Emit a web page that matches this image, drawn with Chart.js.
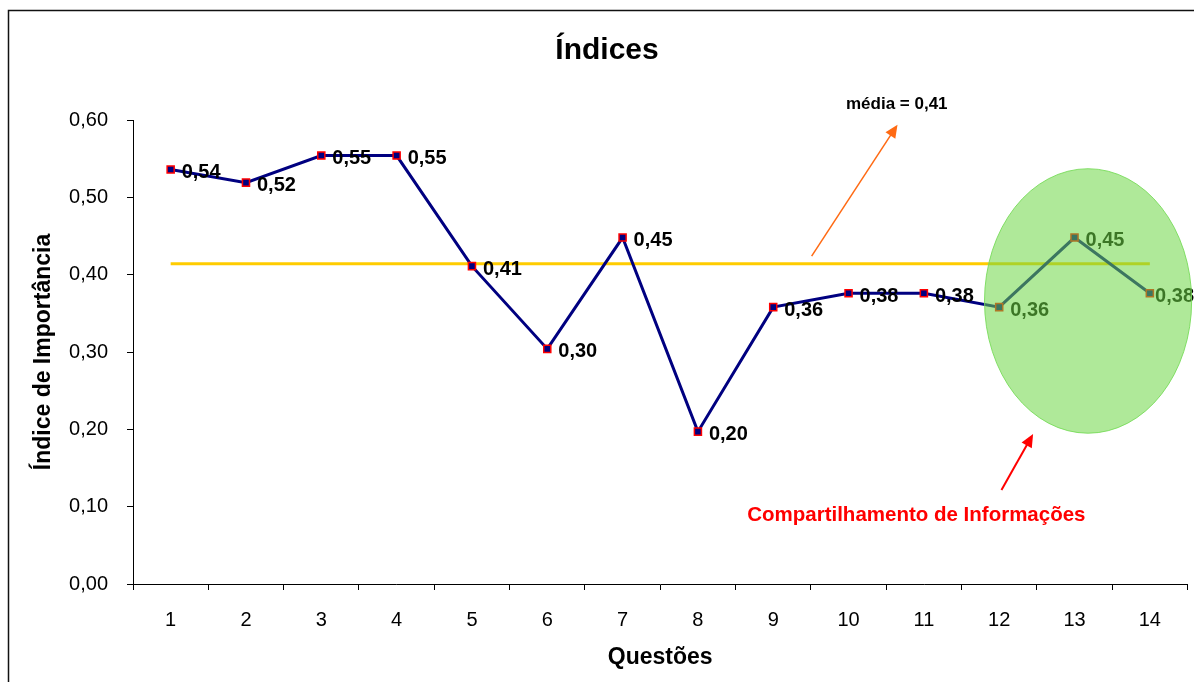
<!DOCTYPE html>
<html>
<head>
<meta charset="utf-8">
<title>Índices</title>
<script src="https://cdn.jsdelivr.net/npm/chart.js@4.4.1/dist/chart.umd.min.js"></script>
<style>
  html, body { margin: 0; padding: 0; background: #fff; }
</style>
</head>
<body>
<canvas id="myChart" width="1194" height="682"></canvas>
<script>
const questoes = ['1', '2', '3', '4', '5', '6', '7', '8', '9', '10', '11', '12', '13', '14'];
const indices = [0.536, 0.519, 0.554, 0.554, 0.411, 0.304, 0.448, 0.197, 0.358, 0.376, 0.376, 0.358, 0.448, 0.376];
const mediaValor = 0.414;
const media = [0.414, 0.414, 0.414, 0.414, 0.414, 0.414, 0.414, 0.414, 0.414, 0.414, 0.414, 0.414, 0.414, 0.414];
const yTicks = [0, 0.1, 0.2, 0.3, 0.4, 0.5, 0.6];

// 0.54 -> "0,54"
const fmt = v => v.toFixed(2).replace('.', ',');

Chart.defaults.font.family = "'Liberation Sans', Arial, sans-serif";
Chart.defaults.color = '#000';

// white page, outer frame (left and top edges visible) and the title
const frame = {
    id: 'frame',
    beforeDraw(chart) {
        const c = chart.ctx;
        c.save();
        c.fillStyle = '#fff';
        c.fillRect(0, 0, chart.width, chart.height);
        c.strokeStyle = '#111';
        c.lineWidth = 1.5;
        c.beginPath();
        c.moveTo(8.5, chart.height);
        c.lineTo(8.5, 10.5);
        c.lineTo(chart.width, 10.5);
        c.stroke();
        c.fillStyle = '#000';
        c.font = "bold 30px 'Liberation Sans', Arial, sans-serif";
        c.textAlign = 'center';
        c.textBaseline = 'middle';
        c.fillText('Índices', 607, 51);
        c.restore();
    }
};

// value labels to the right of each point
const valueLabels = {
    id: 'valueLabels',
    afterDatasetsDraw(chart) {
        const c = chart.ctx;
        const meta = chart.getDatasetMeta(0);
        c.save();
        c.font = "bold 20px 'Liberation Sans', Arial, sans-serif";
        c.fillStyle = '#000';
        c.textBaseline = 'middle';
        c.textAlign = 'left';
        meta.data.forEach((pt, i) => {
            const txt = fmt(indices[i]);
            const w = c.measureText(txt).width;
            const x = Math.min(pt.x + 11, chart.width - w);
            c.fillText(txt, x, pt.y + 3);
        });
        c.restore();
    }
};

function arrow(c, x1, y1, x2, y2, color, width, head) {
    const a = Math.atan2(y2 - y1, x2 - x1);
    c.save();
    c.strokeStyle = color;
    c.fillStyle = color;
    c.lineWidth = width;
    c.beginPath();
    c.moveTo(x1, y1);
    c.lineTo(x2 - Math.cos(a) * head * 0.8, y2 - Math.sin(a) * head * 0.8);
    c.stroke();
    c.beginPath();
    c.moveTo(x2, y2);
    c.lineTo(x2 - head * Math.cos(a) + head * 0.45 * Math.sin(a), y2 - head * Math.sin(a) - head * 0.45 * Math.cos(a));
    c.lineTo(x2 - head * Math.cos(a) - head * 0.45 * Math.sin(a), y2 - head * Math.sin(a) + head * 0.45 * Math.cos(a));
    c.closePath();
    c.fill();
    c.restore();
}

// highlight ellipse, arrows and callout texts
const notes = {
    id: 'notes',
    afterDraw(chart) {
        const c = chart.ctx;
        const xs = chart.scales.x, ys = chart.scales.y;
        const X = v => xs.getPixelForValue(v);
        const Y = v => ys.getPixelForValue(v);

        // "Compartilhamento de Informações" group (questions 12-14)
        const cx = X(12.18), cy = Y(0.366);
        const rx = X(12.18 + 1.375) - cx, ry = Y(0.366 - 0.171) - cy;
        c.save();
        c.beginPath();
        c.ellipse(cx, cy, rx, ry, 0, 0, Math.PI * 2);
        c.fillStyle = 'rgba(110, 215, 70, 0.55)';
        c.fill();
        c.strokeStyle = 'rgba(120, 220, 90, 0.9)';
        c.lineWidth = 1;
        c.stroke();
        c.restore();

        arrow(c, X(8.51), Y(0.424), X(9.65), Y(0.594), '#ff6a13', 1.5, 13);
        arrow(c, X(11.03), Y(0.1216), X(11.45), Y(0.194), '#ff0000', 2, 13);

        c.save();
        c.textAlign = 'center';
        c.textBaseline = 'middle';
        c.fillStyle = '#000';
        c.font = "bold 17px 'Liberation Sans', Arial, sans-serif";
        c.fillText('média = ' + fmt(mediaValor), X(9.64), Y(0.62));
        c.fillStyle = '#ff0000';
        c.font = "bold 20.5px 'Liberation Sans', Arial, sans-serif";
        c.fillText('Compartilhamento de Informações', X(9.9), Y(0.089));
        c.restore();
    }
};

const ctx = document.getElementById('myChart');

new Chart(ctx, {
    type: 'line',
    data: {
        labels: questoes,
        datasets: [{
            label: 'Índice',
            data: indices,
            borderColor: '#000080',
            borderWidth: 3,
            tension: 0,
            pointStyle: 'rect',
            pointRadius: 5,
            pointBorderColor: '#ff0000',
            pointBackgroundColor: '#000080',
            pointBorderWidth: 1.5
        },
        {
            label: 'Média',
            data: media,
            borderColor: '#ffcc00',
            borderWidth: 3,
            pointRadius: 0
        }]
    },
    options: {
        responsive: false,
        animation: false,
        devicePixelRatio: 1,
        layout: {
            padding: { top: 120, right: 0, bottom: 0, left: 0 }
        },
        plugins: {
            legend: { display: false },
            tooltip: { enabled: false },
            title: { display: false }
        },
        scales: {
            x: {
                offset: true,
                grid: {
                    offset: true,
                    drawOnChartArea: false,
                    tickLength: 6,
                    color: '#000'
                },
                border: { color: '#000', width: 1 },
                ticks: {
                    color: '#000',
                    font: { size: 20 },
                    padding: 18,
                    maxRotation: 0,
                    autoSkip: false
                },
                title: {
                    display: true,
                    text: 'Questões',
                    color: '#000',
                    font: { size: 23, weight: 'bold' },
                    padding: { top: 0, bottom: 11 }
                },
                afterFit(scale) { scale.height = 98; }
            },
            y: {
                min: 0,
                max: 0.6,
                afterBuildTicks(scale) {
                    scale.ticks = yTicks.map(v => ({ value: v }));
                },
                grid: {
                    drawOnChartArea: false,
                    tickLength: 6,
                    color: '#000'
                },
                border: { color: '#000', width: 1 },
                ticks: {
                    color: '#000',
                    font: { size: 20 },
                    padding: 19,
                    callback: v => fmt(v)
                },
                title: {
                    display: true,
                    text: 'Índice de Importância',
                    color: '#000',
                    font: { size: 23, weight: 'bold' },
                    padding: { top: 30, bottom: 0 }
                },
                afterFit(scale) { scale.width = 133; }
            }
        }
    },
    plugins: [frame, valueLabels, notes]
});
</script>
</body>
</html>
